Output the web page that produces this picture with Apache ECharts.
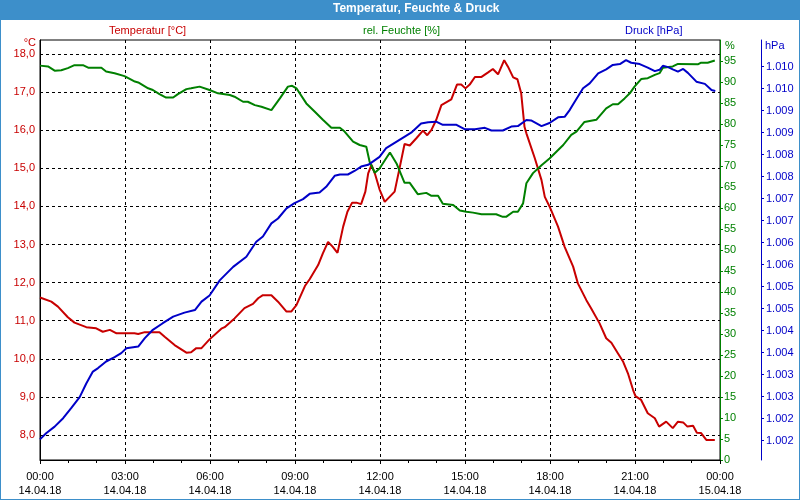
<!DOCTYPE html>
<html><head><meta charset="utf-8">
<script src="https://cdn.jsdelivr.net/npm/echarts@6/dist/echarts.min.js"></script>
<style>html,body{margin:0;padding:0;background:#fff}#c{width:800px;height:500px}</style>
</head><body><div id="c"></div><script>
const chartTitle = 'Temperatur, Feuchte & Druck';
const seriesNames = ['Temperatur [°C]', 'rel. Feuchte [%]', 'Druck [hPa]'];
const timeLabels = ['00:00','03:00','06:00','09:00','12:00','15:00','18:00','21:00','00:00'];
const dateLabels = ['14.04.18','14.04.18','14.04.18','14.04.18','14.04.18','14.04.18','14.04.18','14.04.18','15.04.18'];
const tempTicks = [8,9,10,11,12,13,14,15,16,17,18];
const pressTicks = [1001.5,1002,1002.5,1003,1003.5,1004,1004.5,1005,1005.5,1006,1006.5,1007,1007.5,1008,1008.5,1009,1009.5,1010];

// [minutes since 00:00, value]
const temperatur = [[0,11.61],[24,11.50],[38,11.37],[59,11.09],[73,10.95],[98,10.83],[119,10.80],[133,10.71],[148,10.76],[162,10.67],[200,10.67],[208,10.65],[222,10.70],[253,10.70],[264,10.58],[285,10.36],[310,10.16],[320,10.17],[331,10.28],[342,10.28],[359,10.51],[384,10.79],[391,10.83],[412,11.06],[433,11.33],[451,11.44],[462,11.59],[472,11.67],[490,11.67],[504,11.50],[522,11.24],[532,11.24],[543,11.41],[561,11.91],[571,12.09],[589,12.46],[599,12.77],[610,13.07],[620,12.94],[630,12.78],[642,13.47],[651,13.86],[661,14.10],[670,14.10],[680,14.06],[689,14.39],[695,14.87],[702,15.09],[709,14.87],[719,14.45],[730,14.12],[751,14.39],[762,15.04],[772,15.64],[783,15.60],[797,15.79],[811,15.99],[820,15.87],[829,16.01],[839,16.27],[850,16.66],[871,16.81],[883,17.20],[892,17.20],[901,17.10],[910,17.20],[921,17.40],[935,17.40],[949,17.52],[959,17.61],[970,17.47],[983,17.84],[991,17.67],[1002,17.39],[1011,17.34],[1019,16.97],[1026,16.09],[1030,15.92],[1048,15.26],[1062,14.69],[1069,14.25],[1079,14.00],[1097,13.47],[1111,12.94],[1129,12.42],[1139,11.98],[1157,11.54],[1167,11.33],[1185,10.93],[1199,10.54],[1210,10.42],[1224,10.14],[1235,9.92],[1245,9.62],[1256,9.18],[1261,9.02],[1273,8.92],[1287,8.57],[1302,8.44],[1311,8.22],[1326,8.35],[1340,8.18],[1351,8.35],[1362,8.33],[1371,8.22],[1383,8.24],[1391,8.06],[1400,8.05],[1411,7.87],[1429,7.87]];

const feuchte = [[0,93.9],[17,93.7],[31,92.7],[45,92.8],[59,93.3],[73,94.0],[91,94.0],[102,93.4],[130,93.4],[140,92.5],[158,92.1],[179,91.4],[201,90.1],[208,89.9],[229,88.5],[239,88.1],[253,87.1],[267,86.3],[282,86.3],[292,87.1],[310,88.3],[320,88.5],[338,88.9],[359,88.1],[377,87.3],[402,86.9],[412,86.5],[430,85.3],[440,85.3],[455,84.5],[469,84.1],[490,83.3],[508,86.1],[525,88.9],[534,89.1],[543,88.5],[564,84.9],[582,82.9],[599,81.0],[617,79.1],[635,79.1],[645,78.2],[663,75.8],[677,75.0],[691,74.6],[698,71.0],[709,68.4],[719,69.4],[741,73.2],[755,70.6],[772,66.0],[783,66.0],[800,63.3],[818,63.6],[829,62.9],[843,62.9],[853,61.0],[875,60.7],[889,59.4],[903,59.1],[917,58.9],[935,58.5],[966,58.5],[980,57.9],[987,57.9],[1002,59.1],[1012,59.1],[1023,61.1],[1030,65.9],[1044,68.3],[1062,70.2],[1079,71.8],[1108,75.0],[1125,77.4],[1136,78.2],[1153,80.5],[1178,81.0],[1199,83.7],[1213,84.7],[1224,84.7],[1238,86.1],[1249,87.3],[1259,88.9],[1273,90.7],[1287,90.9],[1302,91.7],[1312,92.1],[1319,93.4],[1340,93.7],[1351,94.3],[1393,94.2],[1400,94.6],[1414,94.6],[1429,95.1]];

const druck = [[0,1001.53],[13,1001.67],[31,1001.82],[49,1002.01],[66,1002.24],[84,1002.49],[98,1002.80],[112,1003.07],[123,1003.15],[140,1003.30],[158,1003.40],[172,1003.49],[183,1003.60],[208,1003.64],[222,1003.83],[239,1004.02],[260,1004.17],[282,1004.32],[306,1004.41],[328,1004.47],[342,1004.66],[359,1004.80],[381,1005.15],[409,1005.45],[437,1005.68],[458,1006.02],[472,1006.14],[490,1006.44],[504,1006.55],[522,1006.78],[539,1006.90],[557,1006.99],[571,1007.11],[592,1007.14],[606,1007.27],[624,1007.52],[635,1007.55],[652,1007.55],[666,1007.63],[680,1007.73],[695,1007.77],[719,1007.95],[733,1008.15],[751,1008.27],[769,1008.39],[786,1008.50],[807,1008.71],[822,1008.74],[839,1008.75],[853,1008.68],[882,1008.68],[899,1008.58],[921,1008.58],[942,1008.61],[956,1008.55],[980,1008.55],[998,1008.64],[1012,1008.65],[1030,1008.79],[1040,1008.78],[1062,1008.65],[1079,1008.72],[1097,1008.85],[1111,1008.86],[1122,1009.02],[1132,1009.20],[1150,1009.51],[1164,1009.62],[1182,1009.85],[1199,1009.94],[1213,1010.04],[1228,1010.06],[1241,1010.15],[1252,1010.09],[1270,1010.06],[1287,1009.98],[1302,1009.90],[1312,1009.93],[1319,1010.02],[1330,1009.99],[1340,1009.94],[1351,1009.89],[1362,1009.95],[1372,1009.86],[1390,1009.66],[1408,1009.61],[1422,1009.47],[1430,1009.45]];

const FONT = '"Liberation Sans", Arial, sans-serif';
const RED = '#c80000', GREEN = '#008000', BLUE = '#0000c8', FRAME = '#3d8fca';
const toHours = arr => arr.map(p => [p[0] / 60, p[1]]);

const chart = echarts.init(document.getElementById('c'), null, {renderer: 'canvas'});
chart.setOption({
  animation: false,
  backgroundColor: '#fff',
  textStyle: {fontFamily: FONT},
  title: [
    {text: chartTitle, left: 333, top: 3, padding: 0, textStyle: {color: '#fff', fontSize: 12, fontWeight: 'bold', fontFamily: FONT}},
    {text: seriesNames[0], left: 109, top: 25, padding: 0, textStyle: {color: RED, fontSize: 11, fontWeight: 'normal', fontFamily: FONT}},
    {text: seriesNames[1], left: 363, top: 25, padding: 0, textStyle: {color: GREEN, fontSize: 11, fontWeight: 'normal', fontFamily: FONT}},
    {text: seriesNames[2], left: 625, top: 25, padding: 0, textStyle: {color: BLUE, fontSize: 11, fontWeight: 'normal', fontFamily: FONT}}
  ],
  graphic: [
    {type: 'rect', z: 0, silent: true, shape: {x: 0, y: 0, width: 800, height: 20}, style: {fill: FRAME}},
    {type: 'rect', z: 0, silent: true, shape: {x: 0, y: 0, width: 800, height: 500}, style: {fill: null, stroke: FRAME, lineWidth: 2}}
  ],
  grid: {left: 40, right: 80, top: 40, bottom: 40, show: true, borderColor: '#000', borderWidth: 1, backgroundColor: '#fff'},
  xAxis: {
    type: 'value', min: 0, max: 24, interval: 3,
    axisLine: {lineStyle: {color: '#000', width: 1}},
    axisTick: {show: true, length: 4, lineStyle: {color: '#000'}},
    minorTick: {show: true, splitNumber: 3, length: 3, lineStyle: {color: '#000'}},
    splitLine: {show: true, lineStyle: {color: '#000', type: [3, 3], width: 1}},
    axisLabel: {
      color: '#000', fontSize: 11, lineHeight: 14, margin: 10, fontFamily: FONT,
      showMinLabel: true, showMaxLabel: true,
      formatter: v => { const i = Math.round(v / 3); return timeLabels[i] + '\n' + dateLabels[i]; }
    }
  },
  yAxis: [
    {
      type: 'value', position: 'left', min: 7.343, max: 18.37,
      name: '°C', nameLocation: 'end', nameGap: -6,
      nameTextStyle: {color: RED, fontSize: 11, align: 'right', verticalAlign: 'middle', padding: [8, 4, 0, 0], fontFamily: FONT},
      axisLine: {show: true, lineStyle: {color: '#000'}},
      axisTick: {show: false, customValues: tempTicks},
      axisLabel: {customValues: tempTicks, color: RED, fontSize: 11, margin: 5, fontFamily: FONT,
        formatter: v => v.toFixed(1).replace('.', ',')},
      splitLine: {show: true, lineStyle: {color: '#000', type: [3, 3], width: 1}}
    },
    {
      type: 'value', position: 'right', min: 0, max: 100, interval: 5,
      name: '%', nameLocation: 'end', nameGap: -6,
      nameTextStyle: {color: GREEN, fontSize: 11, align: 'left', verticalAlign: 'middle', padding: [6, 0, 0, 5], fontFamily: FONT},
      axisLine: {show: true, lineStyle: {color: GREEN}},
      axisTick: {show: true, length: 3, lineStyle: {color: GREEN}},
      axisLabel: {color: GREEN, fontSize: 11, margin: 4, showMaxLabel: false, showMinLabel: true, fontFamily: FONT},
      splitLine: {show: false}
    },
    {
      type: 'value', position: 'right', offset: 41, min: 1001.061, max: 1010.607,
      name: 'hPa', nameLocation: 'end', nameGap: -6,
      nameTextStyle: {color: BLUE, fontSize: 11, align: 'left', verticalAlign: 'middle', padding: [6, 0, 0, 4], fontFamily: FONT},
      axisLine: {show: true, lineStyle: {color: BLUE}},
      axisTick: {show: true, length: 3, customValues: pressTicks, lineStyle: {color: BLUE}},
      axisLabel: {customValues: pressTicks, color: BLUE, fontSize: 11, margin: 5, fontFamily: FONT,
        formatter: v => { const s = String(Math.round(v)); return s.slice(0, 1) + '.' + s.slice(1); }},
      splitLine: {show: false}
    }
  ],
  series: [
    {name: seriesNames[0], type: 'line', yAxisIndex: 0, data: toHours(temperatur), showSymbol: false,
      lineStyle: {color: RED, width: 2}, itemStyle: {color: RED}},
    {name: seriesNames[1], type: 'line', yAxisIndex: 1, data: toHours(feuchte), showSymbol: false,
      lineStyle: {color: GREEN, width: 2}, itemStyle: {color: GREEN}},
    {name: seriesNames[2], type: 'line', yAxisIndex: 2, data: toHours(druck), showSymbol: false,
      lineStyle: {color: BLUE, width: 2}, itemStyle: {color: BLUE}}
  ]
});
</script></body></html>
